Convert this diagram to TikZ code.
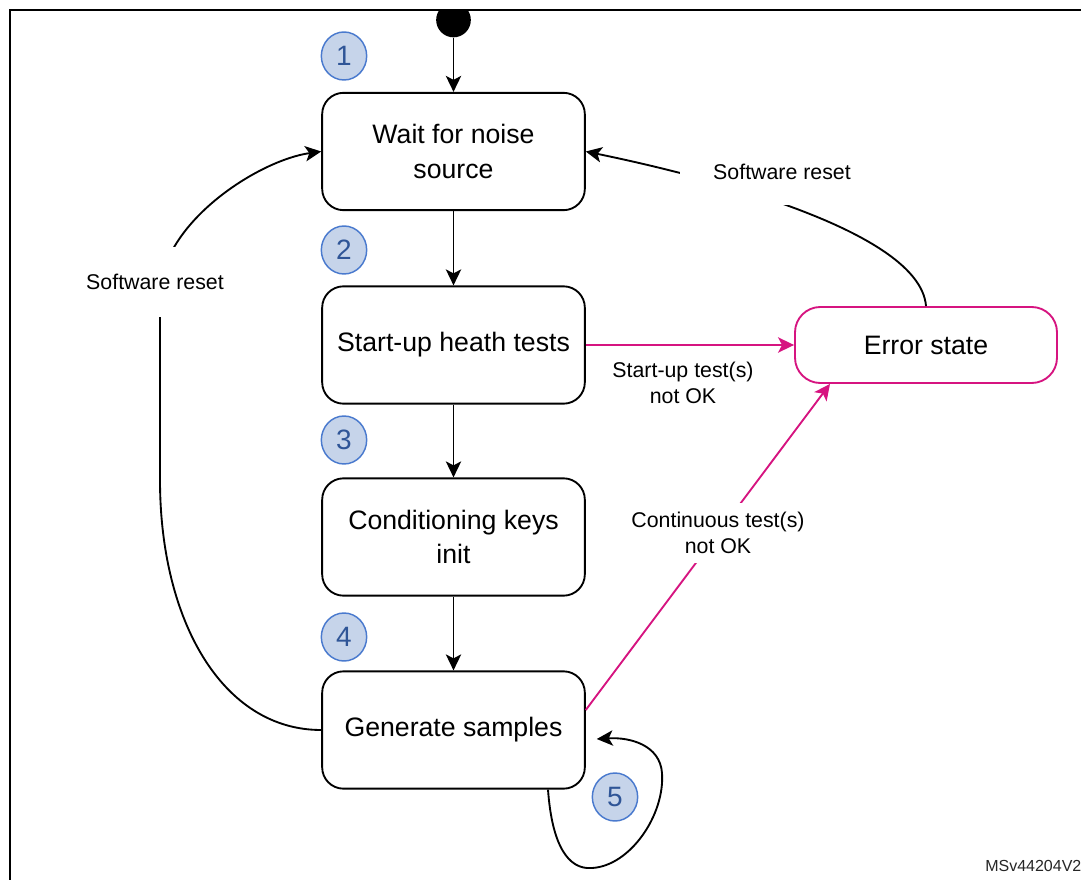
\documentclass[tikz,border=0pt]{standalone}
\usepackage{fontspec}
\setmainfont{Liberation Sans}
\usetikzlibrary{arrows.meta,calc,shapes.geometric}
\definecolor{mag}{RGB}{214,20,128}
\definecolor{cfill}{RGB}{198,212,234}
\definecolor{cborder}{RGB}{74,122,206}
\definecolor{ctext}{RGB}{47,85,151}
\begin{document}
\begin{tikzpicture}[x=0.75pt,y=-0.75pt,
  state/.style={draw, line width=1.4pt, rounded corners=16pt, minimum width=197pt, minimum height=88pt, align=center, font=\fontsize{20}{26}\selectfont, inner sep=2pt},
  errstate/.style={state, draw=mag, minimum width=196.5pt, minimum height=57pt, rounded corners=19pt},
  num/.style={ellipse, draw=cborder, fill=cfill, line width=1.1pt, minimum width=34pt, minimum height=36pt, inner sep=0pt, text=ctext, font=\fontsize{21}{21}\selectfont},
  conn/.style={line width=1.4pt, -{Stealth[length=12pt,width=11.5pt,inset=3pt]}},
  lbl/.style={fill=white, align=center, font=\fontsize{16}{20}\selectfont, inner sep=0pt},
]
\useasboundingbox (0,0) rectangle (1081,880);
\fill[white] (0,0) rectangle (1081,880);

% initial dot (clipped by frame)
\begin{scope}
  \clip (0,10) rectangle (1081,80);
  \node[circle, fill=black, minimum size=26pt, inner sep=0pt] (init) at (453.5,20) {};
\end{scope}

% frame
\draw[line width=2pt] (10,880) -- (10,10) -- (1081,10);

% states
\node[state] (b1) at (453.5,151.5) {Wait for noise\\source};
\node[state] (b2) at (453.5,345) {Start-up heath tests};
\node[state] (b3) at (453.5,537) {Conditioning keys\\init};
\node[state] (b4) at (453.5,730) {Generate samples};
\node[errstate] (err) at (926,345) {Error state};

% step numbers
\node[num] (n1) at (344,56) {1};
\node[num] (n2) at (344,250) {2};
\node[num] (n3) at (344,440) {3};
\node[num] (n4) at (344,637) {4};
\node[num] (n5) at (615,797) {5};

% main flow
\draw[conn] (init) -- (b1);
\draw[conn] (b1) -- (b2);
\draw[conn] (b2) -- (b3);
\draw[conn] (b3) -- (b4);

% error transitions
\draw[conn, draw=mag, color=mag] (b2.east) -- (err.west);
\draw[conn, draw=mag, color=mag] ($(b4.east)+(0,-20)$) -- ($(err.south)+(-96,0)$);

% software resets
\draw[conn] (err.north) .. controls (920,230) and (700,175) .. (b1.east);
\draw[conn] (b4.west) .. controls (222,730) and (160,620) .. (160,480) -- (160,290) .. controls (165,220) and (260,160) .. (b1.west);

% self loop
\draw[conn] ($(b4.south)+(94.5,0)$) .. controls (552,845) and (568,870) .. (592,868)
  .. controls (630,866) and (665,815) .. (662,773)
  .. controls (660,745) and (630,737) .. ($(b4.east)+(11,9)$);

% labels
\node[lbl, minimum width=153pt, minimum height=49.5pt] (lrs) at (782,172) {Software reset};
\node[lbl, minimum height=52.5pt] (lls) at (155,282) {Software reset};
\node[lbl] (lsu) at (683,383) {Start-up test(s)\\not OK};
\node[lbl, minimum height=45pt] (lct) at (718,533) {Continuous test(s)\\not OK};

\node[anchor=west, inner sep=0pt, font=\fontsize{12}{14}\selectfont, text=black!85] (ref) at (985,866) {MSv44204V2};
\end{tikzpicture}
\end{document}
